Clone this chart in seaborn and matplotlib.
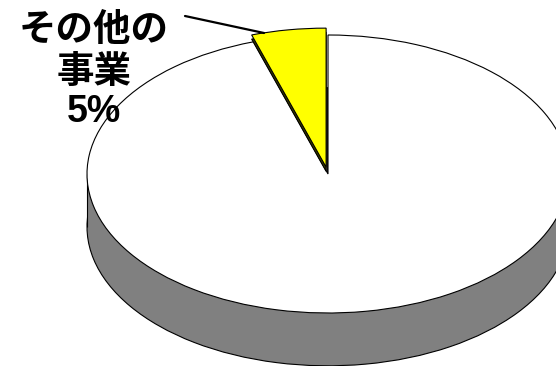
import matplotlib
matplotlib.use("Agg")
import matplotlib.pyplot as plt
import seaborn as sns
import numpy as np
from matplotlib.lines import Line2D

# ---- data ----
categories = ["その他の事業", "その他"]
values = [5, 95]
label_lines = ["その他の", "事業", "5%"]
slice_colors = ["#ffff00", "#ffffff"]

sns.set_theme(style="white")
plt.rcParams["font.family"] = ["Noto Sans CJK JP", "DejaVu Sans"]

W, H = 556, 366
fig = plt.figure(figsize=(W / 100, H / 100), dpi=100)
ax = fig.add_axes([0, 0, 1, 1])

# ellipse geometry in pixels
cx, cy, a, b = 328, 174, 241, 139
depth = 0.38
explode = [0.05, 0]
side_gray = "#808080"
lw = 0.8

# bottom (side) ellipse
bottom, _ = ax.pie(values, colors=[side_gray, side_gray], startangle=90,
                   counterclock=True, center=(0, -depth),
                   wedgeprops=dict(edgecolor="black", linewidth=lw))
for w in bottom:
    w.set_zorder(1)
ax.fill_between([-1, 1], -depth, 0, color=side_gray, lw=0, zorder=2)
ax.vlines([-1, 1], -depth, 0, colors="black", lw=lw, zorder=2)

# dark side of the exploded slice
dark, _ = ax.pie(values, colors=["#3a3a00", "none"], startangle=90,
                 counterclock=True, explode=explode, center=(0, -0.03),
                 wedgeprops=dict(edgecolor="black", linewidth=lw))
dark[0].set_zorder(4)
dark[1].set_visible(False)

# top face
top, _ = ax.pie(values, colors=slice_colors, startangle=90,
                counterclock=True, explode=explode,
                wedgeprops=dict(edgecolor="black", linewidth=lw))
top[1].set_zorder(3)
top[0].set_zorder(5)

ax.set_aspect("auto")
ax.set_xlim(-cx / a, (W - cx) / a)
ax.set_ylim((cy - H) / b, cy / b)
ax.axis("off")

# leader line
fig.add_artist(Line2D([185 / W, 264 / W], [1 - 16 / H, 1 - 33 / H],
                      color="black", lw=1.6))

# label
ys = [30, 71, 112]
fams = [["Noto Sans CJK JP", "DejaVu Sans"],
        ["Noto Sans CJK JP", "DejaVu Sans"],
        ["Liberation Sans", "DejaVu Sans"]]
for t, y, f in zip(label_lines, ys, fams):
    fig.text(94 / W, 1 - y / H, t, ha="center", va="center",
             fontsize=27, fontweight="bold", color="black", family=f)

fig.savefig("out.png", dpi=100)
